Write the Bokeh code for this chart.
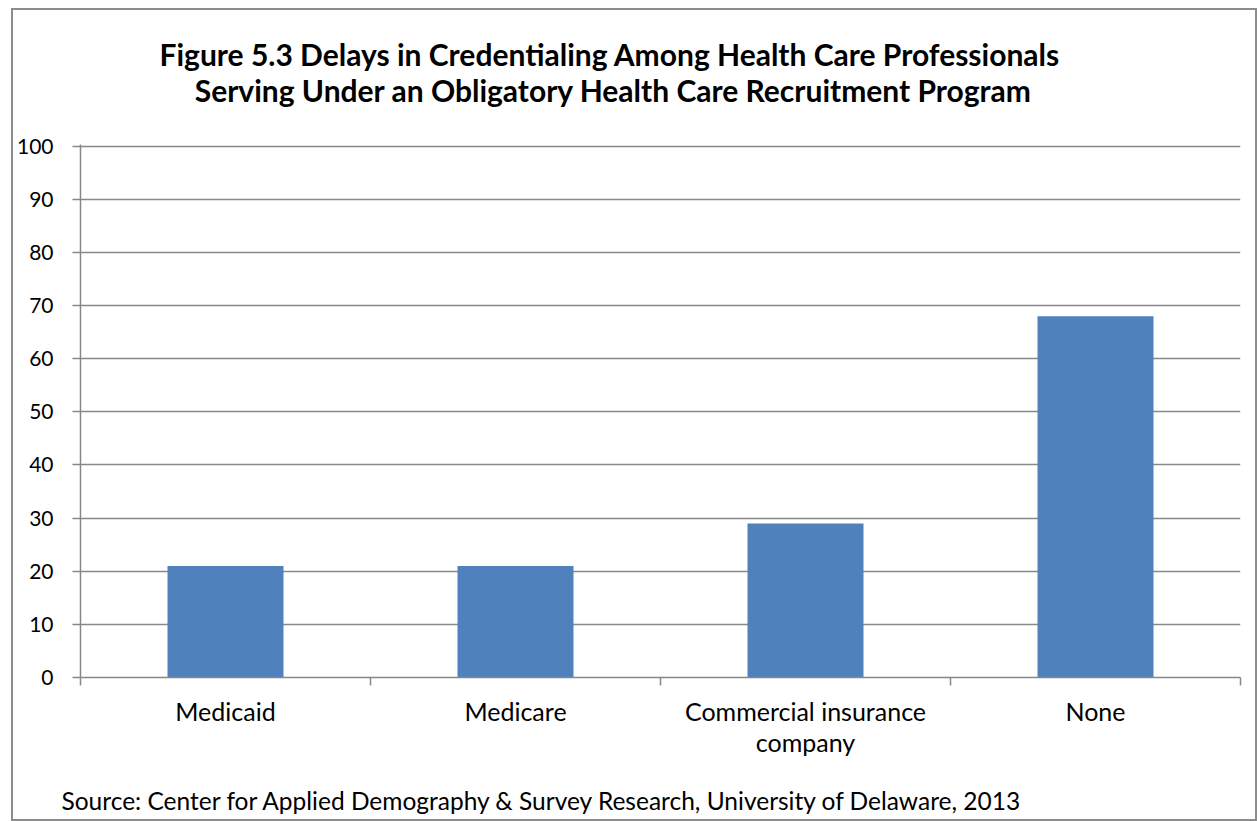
from bokeh.plotting import figure
from bokeh.models import Range1d, FixedTicker, Label
from bokeh.embed import file_html
from bokeh.resources import INLINE

categories = ["Medicaid", "Medicare", "Commercial insurance\ncompany", "None"]
values = [21, 21, 29, 68]
y_ticks = [0, 10, 20, 30, 40, 50, 60, 70, 80, 90, 100]
title_lines = ["Figure 5.3  Delays in Credentialing Among Health Care Professionals",
               "Serving Under an Obligatory Health Care Recruitment Program"]
source_text = "Source: Center for Applied Demography & Survey Research, University of Delaware, 2013"

FONT = "Lato"
GRAY = "#888888"

positions = [i + 0.5 for i in range(len(categories))]

p = figure(width=1246, height=813, output_backend="svg", toolbar_location=None,
           x_range=Range1d(0, len(categories)), y_range=Range1d(0, 100.3),
           min_border_left=67, min_border_right=19, min_border_top=134, min_border_bottom=146,
           tools="")
p.margin = (8, 0, 0, 11)
p.styles = {"border": "2px solid #8c8c8c", "box-sizing": "border-box"}
p.outline_line_color = None
p.background_fill_color = "white"
p.border_fill_color = "white"

p.vbar(x=positions, top=values, width=0.4, color="#4F81BD", line_color=None)

# x axis
p.xaxis.ticker = FixedTicker(ticks=positions, minor_ticks=list(range(len(categories) + 1)))
p.xaxis.major_label_overrides = {pos: c for pos, c in zip(positions, categories)}
p.xaxis.major_tick_line_color = None
p.xaxis.minor_tick_line_color = GRAY
p.xaxis.minor_tick_line_width = 1.5
p.xaxis.minor_tick_in = 0
p.xaxis.minor_tick_out = 8
p.xaxis.axis_line_color = GRAY
p.xaxis.axis_line_width = 1.5
p.xaxis.major_label_text_font = FONT
p.xaxis.major_label_text_font_size = "25px"
p.xaxis.major_label_text_color = "black"
p.xaxis.major_label_standoff = 10
p.xaxis.major_label_text_line_height = 1.05

# y axis
p.yaxis.ticker = FixedTicker(ticks=y_ticks)
p.yaxis.minor_tick_line_color = None
p.yaxis.major_tick_line_color = GRAY
p.yaxis.major_tick_line_width = 1.5
p.yaxis.major_tick_in = 0
p.yaxis.major_tick_out = 8
p.yaxis.axis_line_color = GRAY
p.yaxis.axis_line_width = 1.5
p.yaxis.major_label_text_font = FONT
p.yaxis.major_label_text_font_size = "21px"
p.yaxis.major_label_text_color = "black"
p.yaxis.major_label_standoff = 19

p.xgrid.grid_line_color = None
p.ygrid.grid_line_color = GRAY
p.ygrid.grid_line_width = 1.5

# title lines as labels in the top panel (each label stacks above the previous one)
for txt, yy in zip(title_lines, [91, 19]):
    p.add_layout(Label(x=533, y=yy, x_units="screen", y_units="screen", text=txt,
                       text_font=FONT, text_font_style="bold", text_font_size="30px",
                       text_align="center", text_baseline="middle", text_color="black"),
                 "above")

# source note below the x axis
p.add_layout(Label(x=-19, y=-11, x_units="screen", y_units="screen", text=source_text,
                   text_font=FONT, text_font_size="24.5px", text_align="left",
                   text_baseline="middle", text_color="black"), "below")

open("out.html", "w").write(file_html(p, INLINE))
